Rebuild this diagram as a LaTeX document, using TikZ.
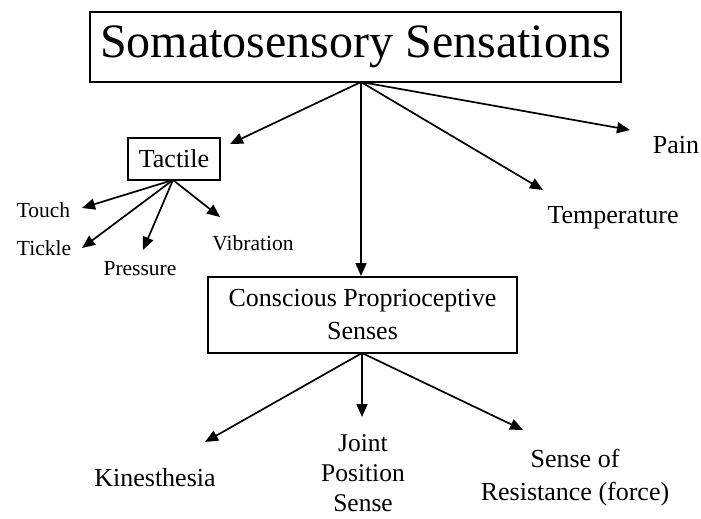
\documentclass[tikz,border=0pt]{standalone}
\usepackage{fontspec}
\setmainfont{Liberation Serif}
\usetikzlibrary{arrows.meta}
\begin{document}
\begin{tikzpicture}[x=1pt,y=-1pt,
  boxnode/.style={draw,line width=1.5pt,inner sep=0pt,align=center},
  lbl/.style={inner sep=0pt,align=center},
  big/.style={font=\fontsize{26}{33}\selectfont},
  small/.style={font=\fontsize{21.5}{26}\selectfont},
  arr/.style={line width=1.7pt,-{Triangle[length=13pt,width=11pt]}}]
\useasboundingbox (0,0) rectangle (701,519);
% boxes
\node[boxnode,minimum width=531pt,minimum height=70pt,font=\fontsize{48}{56}\selectfont] (main) at (355.5,47) {Somatosensory Sensations};
\node[boxnode,minimum width=92pt,minimum height=42pt,big] (tac) at (174,159) {Tactile};
\node[boxnode,minimum width=309pt,minimum height=76pt,big] (cons) at (362.5,315) {Conscious Proprioceptive\\Senses};
% labels
\node[lbl,big] (pain) at (676,145) {Pain};
\node[lbl,big] (temp) at (613,218) {Temperature};
\node[lbl,big] (kin) at (155,478) {Kinesthesia};
\node[lbl,font=\fontsize{25.5}{30}\selectfont] (joint) at (363,473) {Joint\\Position\\Sense};
\node[lbl,font=\fontsize{26}{33}\selectfont] (res) at (575,478) {Sense of\\Resistance (force)};
\node[lbl,small] (touch) at (43.5,210) {Touch};
\node[lbl,small] (tickle) at (44,248) {Tickle};
\node[lbl,small] (press) at (140,269) {Pressure};
\node[lbl,small] (vib) at (253,243) {Vibration};
% apex and tip coordinates
\coordinate (a1) at (361,82);
\coordinate (a2) at (362,353);
\coordinate (a3) at (173,180);
\coordinate (ttac) at (230,144);
\coordinate (tpain) at (630,130);
\coordinate (ttemp) at (543,190);
\coordinate (tcons) at (361,276);
\coordinate (tkin) at (205,442);
\coordinate (tjoint) at (362,417);
\coordinate (tres) at (523,430);
\coordinate (ttouch) at (82,208);
\coordinate (ttickle) at (82,248);
\coordinate (tpress) at (143,250);
\coordinate (tvib) at (220,217);
% connectors
\draw[arr] (a1) -- (ttac);
\draw[arr] (a1) -- (tpain);
\draw[arr] (a1) -- (ttemp);
\draw[arr] (a1) -- (tcons);
\draw[arr] (a2) -- (tkin);
\draw[arr] (a2) -- (tjoint);
\draw[arr] (a2) -- (tres);
\draw[arr] (a3) -- (ttouch);
\draw[arr] (a3) -- (ttickle);
\draw[arr] (a3) -- (tpress);
\draw[arr] (a3) -- (tvib);
\end{tikzpicture}
\end{document}
